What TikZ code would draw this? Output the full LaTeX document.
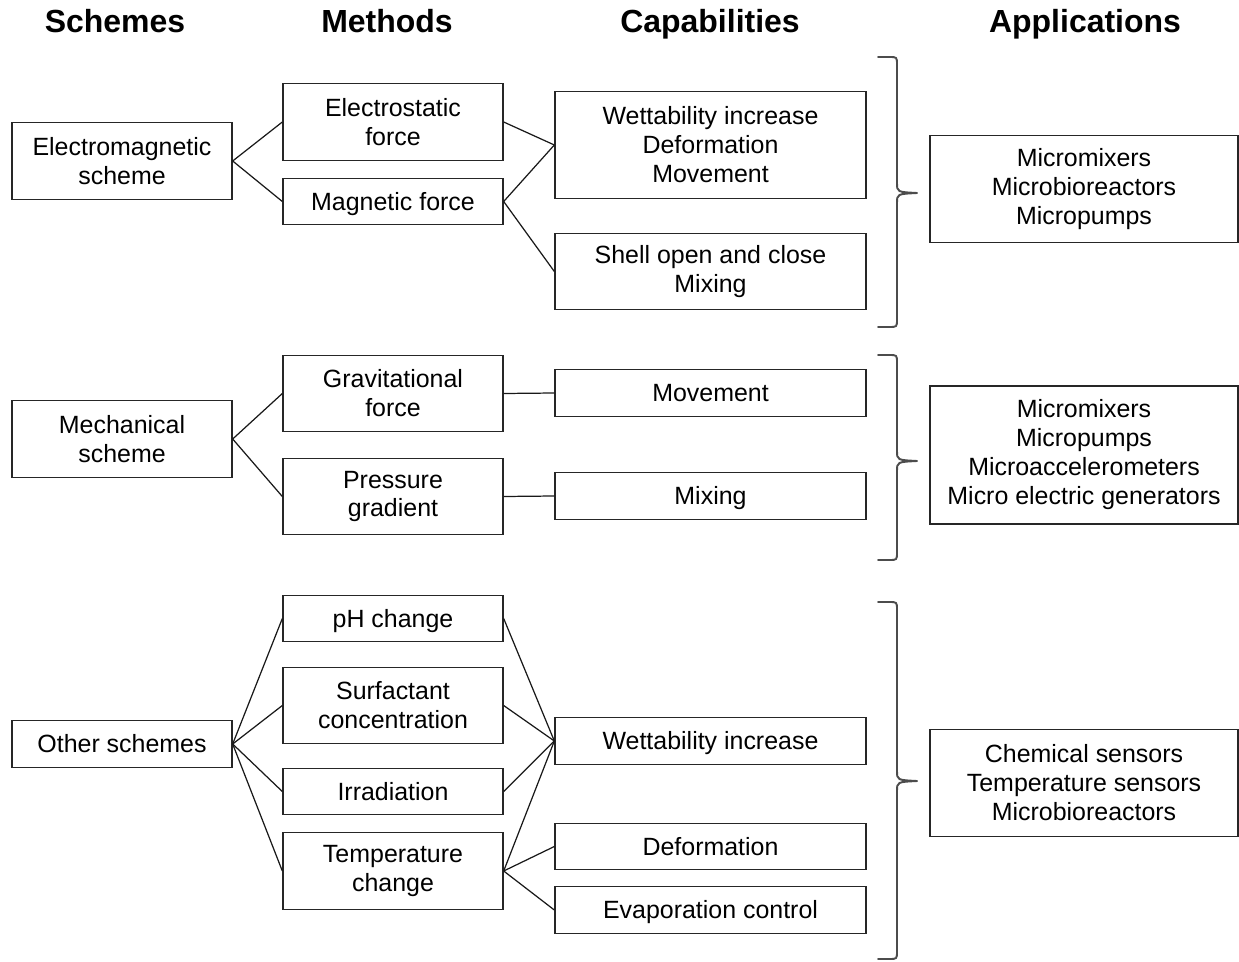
\documentclass[tikz,border=0pt]{standalone}
\usepackage{fontspec}
\setmainfont{Liberation Sans}
\tikzset{
  every node/.style={font=\fontsize{14.2}{16.5}\selectfont},
  box/.style={draw=black!85, line width=0.8pt, align=center, inner sep=0pt},
  scheme box/.style={box, minimum width=4.4cm},
  method box/.style={box, minimum width=4.4cm},
  cap box/.style={box, minimum width=6.22cm},
  app box/.style={box, minimum width=6.16cm},
  lines1/.style={minimum height=0.93cm, text height=12pt, text depth=1.8pt},
  lines2/.style={minimum height=1.53cm},
  lines3/.style={minimum height=2.14cm},
  lines4/.style={minimum height=2.76cm},
  header/.style={font=\fontsize{18.2}{20}\selectfont\bfseries, anchor=base},
  link/.style={line width=0.7pt, draw=black!90},
  brace line/.style={line width=1.1pt, draw=black!70, line cap=round, line join=round}
}

\begin{document}
\begin{tikzpicture}[x=0.02cm, y=-0.02cm]
  \useasboundingbox (0,0) rectangle (1239,962);

  \foreach \x/\name in {115/Schemes,387/Methods,710/Capabilities,1085/Applications}
    \node[header] (h\name) at (\x,33) {\name};

  % electromagnetic group
  \node[scheme box, lines2] (em) at (122,161) {Electromagnetic\\scheme};
  \node[method box, lines2] (es) at (393,122) {Electrostatic\\force};
  \node[method box, lines1] (mag) at (393,201.5) {Magnetic force};
  \node[cap box, lines3] (cap1) at (710.5,145) {Wettability increase\\Deformation\\Movement};
  \node[cap box, lines2] (cap2) at (710.5,271.5) {Shell open and close\\Mixing};
  \node[app box, lines3] (app1) at (1084,189) {Micromixers\\Microbioreactors\\Micropumps};

  % mechanical group
  \node[scheme box, lines2] (mech) at (122,439) {Mechanical\\scheme};
  \node[method box, lines2] (grav) at (393,393.5) {Gravitational\\force};
  \node[method box, lines2] (pres) at (393,496.5) {Pressure\\gradient};
  \node[cap box, lines1] (mov) at (710.5,393) {Movement};
  \node[cap box, lines1] (mix) at (710.5,496) {Mixing};
  \node[app box, lines4] (app2) at (1084,455) {Micromixers\\Micropumps\\Microaccelerometers\\Micro electric generators};

  % other group
  \node[scheme box, lines1] (oth) at (122,744) {Other schemes};
  \node[method box, lines1] (ph) at (393,618.5) {pH change};
  \node[method box, lines2] (surf) at (393,705.5) {Surfactant\\concentration};
  \node[method box, lines1] (irr) at (393,791.5) {Irradiation};
  \node[method box, lines2] (temp) at (393,871) {Temperature\\change};
  \node[cap box, lines1] (wet) at (710.5,741) {Wettability increase};
  \node[cap box, lines1] (def) at (710.5,846.5) {Deformation};
  \node[cap box, lines1] (evap) at (710.5,910) {Evaporation control};
  \node[app box, lines3] (app3) at (1084,783) {Chemical sensors\\Temperature sensors\\Microbioreactors};

  \draw[link] (em.east) -- (es.west);
  \draw[link] (em.east) -- (mag.west);
  \draw[link] (es.east) -- (cap1.west);
  \draw[link] (mag.east) -- (cap1.west);
  \draw[link] (mag.east) -- (cap2.west);

  \draw[link] (mech.east) -- (grav.west);
  \draw[link] (mech.east) -- (pres.west);
  \draw[link] (grav.east) -- (mov.west);
  \draw[link] (pres.east) -- (mix.west);

  \foreach \m in {ph,surf,irr,temp} {
    \draw[link] (oth.east) -- (\m.west);
    \draw[link] (\m.east) -- (wet.west);
  }
  \draw[link] (temp.east) -- (def.west);
  \draw[link] (temp.east) -- (evap.west);

  % braces
  \foreach \t/\m/\b in {57/193/327,355/461/560,602/781/959}
    \draw[brace line] (878,\t) -- (889,\t) .. controls (897,\t) .. (897,\t+8)
      -- (897,\m-10) .. controls (897,\m-1) .. (917,\m)
      .. controls (897,\m+1) .. (897,\m+10)
      -- (897,\b-8) .. controls (897,\b) .. (889,\b) -- (878,\b);
\end{tikzpicture}
\end{document}
